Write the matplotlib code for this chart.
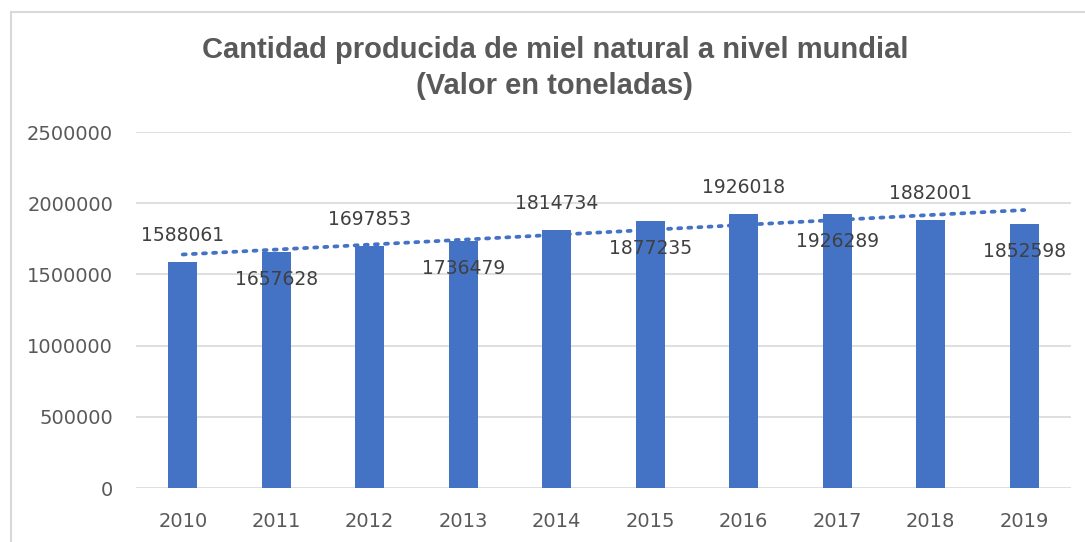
import matplotlib
matplotlib.use("Agg")
import matplotlib.pyplot as plt
import numpy as np
from matplotlib.lines import Line2D

years = ["2010", "2011", "2012", "2013", "2014", "2015", "2016", "2017", "2018", "2019"]
values = [1588061, 1657628, 1697853, 1736479, 1814734, 1877235, 1926018, 1926289, 1882001, 1852598]
label_above = [True, False, True, False, True, False, True, False, True, False]
yticks = [0, 500000, 1000000, 1500000, 2000000, 2500000]

W, H = 1085, 542
fig = plt.figure(figsize=(W / 100, H / 100), dpi=100)
ax = fig.add_axes([136 / W, 1 - 488 / H, (1071 - 136) / W, (488 - 132) / H])

x = np.arange(len(years))
ax.bar(x, values, width=0.31, color="#4472C4", zorder=3)

# linear trendline
coef = np.polyfit(x, values, 1)
ax.plot(x, np.polyval(coef, x), linestyle=(0, (0.8, 1.9)), color="#4472C4",
        linewidth=2.7, dash_capstyle="round", zorder=4)

for xi, v, up in zip(x, values, label_above):
    ax.annotate(str(v), (xi, v), xytext=(0, 19 if up else -20), textcoords="offset points",
                ha="center", va="center", fontsize=13.5, color="#404040", zorder=5)

ax.set_xlim(-0.5, len(years) - 0.5)
ax.set_ylim(0, 2500000)
ax.set_yticks(yticks)
ax.set_yticklabels([str(t) for t in yticks])
ax.set_xticks(x)
ax.set_xticklabels(years)
ax.tick_params(axis="both", length=0, labelsize=14, labelcolor="#595959")
ax.tick_params(axis="y", pad=16.5)
ax.tick_params(axis="x", pad=17)
ax.grid(axis="y", color="#D9D9D9", linewidth=1.2, zorder=0)
for s in ax.spines.values():
    s.set_visible(False)

fig.text(555 / W, 1 - 68 / H, "Cantidad producida de miel natural a nivel mundial\n(Valor en toneladas)",
         ha="center", va="center", fontsize=21, fontweight="bold", color="#595959",
         family="Liberation Sans", linespacing=1.35)

# chart frame
fig.add_artist(Line2D([11 / W, 11 / W], [0, 1 - 12 / H], color="#D9D9D9", linewidth=1.5, transform=fig.transFigure))
fig.add_artist(Line2D([11 / W, 1], [1 - 12 / H, 1 - 12 / H], color="#D9D9D9", linewidth=1.5, transform=fig.transFigure))

fig.savefig("out.png", dpi=100)
